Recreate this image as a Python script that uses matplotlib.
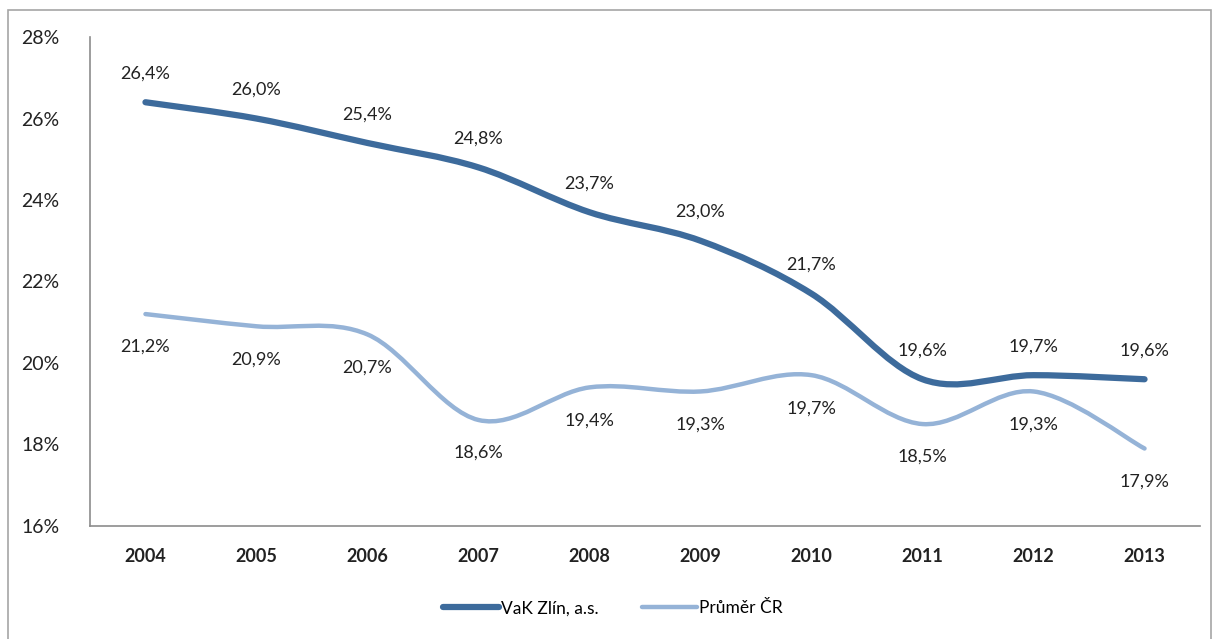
import matplotlib.pyplot as plt
from matplotlib.path import Path
from matplotlib.patches import PathPatch, Rectangle
from matplotlib.lines import Line2D

plt.rcParams['font.family'] = ['Lato', 'DejaVu Sans']

years = ['2004', '2005', '2006', '2007', '2008', '2009', '2010', '2011', '2012', '2013']
vak_zlin = [26.4, 26.0, 25.4, 24.8, 23.7, 23.0, 21.7, 19.6, 19.7, 19.6]
prumer_cr = [21.2, 20.9, 20.7, 18.6, 19.4, 19.3, 19.7, 18.5, 19.3, 17.9]
yticks = [16, 18, 20, 22, 24, 26, 28]

dark = '#3D6B9C'
light = '#95B3D7'


def smooth_path(xs, ys):
    # excel-like smoothed line: cubic bezier through the points
    n = len(xs)
    verts = [(xs[0], ys[0])]
    codes = [Path.MOVETO]
    for i in range(n - 1):
        x0, y0 = (xs[i - 1], ys[i - 1]) if i > 0 else (xs[i], ys[i])
        x1, y1 = xs[i], ys[i]
        x2, y2 = xs[i + 1], ys[i + 1]
        x3, y3 = (xs[i + 2], ys[i + 2]) if i + 2 < n else (x2, y2)
        c1 = (x1 + (x2 - x0) / 6, y1 + (y2 - y0) / 6)
        c2 = (x2 - (x3 - x1) / 6, y2 - (y3 - y1) / 6)
        verts += [c1, c2, (x2, y2)]
        codes += [Path.CURVE4] * 3
    return Path(verts, codes)


fig = plt.figure(figsize=(12.14, 6.39), dpi=100)
ax = fig.add_axes([0.0741, 0.177, 0.9144, 0.765])

x = list(range(len(years)))
ax.add_patch(PathPatch(smooth_path(x, vak_zlin), fill=False, edgecolor=dark,
                       lw=4.5, capstyle='round', zorder=3))
ax.add_patch(PathPatch(smooth_path(x, prumer_cr), fill=False, edgecolor=light,
                       lw=3.2, capstyle='round', zorder=2))

for xi, v in zip(x, vak_zlin):
    ax.annotate(f'{v:.1f}%'.replace('.', ','), (xi, v), xytext=(0, 15),
                textcoords='offset points', ha='center', va='bottom', fontsize=13, color='#222222')
for xi, v in zip(x, prumer_cr):
    ax.annotate(f'{v:.1f}%'.replace('.', ','), (xi, v), xytext=(0, -18),
                textcoords='offset points', ha='center', va='top', fontsize=13, color='#222222')

ax.set_xlim(-0.5, len(years) - 0.5)
ax.set_ylim(16, 28)
ax.set_xticks(x)
ax.set_xticklabels(years, fontsize=13, fontweight='bold', color='#222222')
ax.set_yticks(yticks)
ax.set_yticklabels([f'{t}%' for t in yticks], fontsize=14, color='#222222')
ax.tick_params(axis='both', length=0)
ax.tick_params(axis='x', pad=16)
ax.tick_params(axis='y', pad=22)
for s in ['top', 'right']:
    ax.spines[s].set_visible(False)
for s in ['left', 'bottom']:
    ax.spines[s].set_color('#8C8C8C')
    ax.spines[s].set_linewidth(1.2)

handles = [Line2D([], [], color=dark, lw=4.5, solid_capstyle='round'),
           Line2D([], [], color=light, lw=3.2, solid_capstyle='round')]
fig.legend(handles, ['VaK Zlín, a.s.', 'Průměr ČR'], loc='center', bbox_to_anchor=(0.505, 0.048),
           ncol=2, frameon=False, fontsize=12.5, handlelength=3.2, handletextpad=0.1, columnspacing=2.5)

fig.add_artist(Rectangle((8 / 1214, -0.01), 1203 / 1214, 1 - 10 / 639 + 0.01, transform=fig.transFigure,
                         fill=False, edgecolor='#A6A6A6', lw=1.2))

fig.savefig('out.png', dpi=100)
